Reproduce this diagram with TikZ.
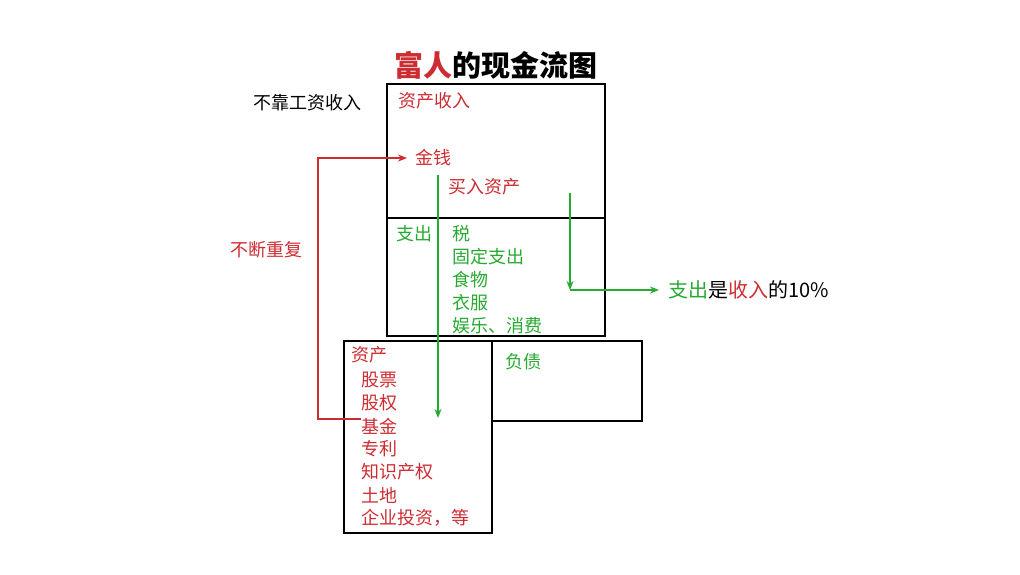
\documentclass[tikz,border=0pt]{standalone}
\usepackage{fontspec}
\setmainfont{Noto Sans CJK SC}
\usetikzlibrary{positioning,arrows.meta}
\definecolor{cfred}{RGB}{205,45,50}
\definecolor{cfgreen}{RGB}{40,170,50}
\tikzset{
  >={Stealth[length=9pt,width=7pt]},
  bigbox/.style={draw=black,line width=1.6pt,inner sep=0pt},
  txt/.style={font=\fontsize{18}{21}\selectfont,inner sep=0pt,anchor=west},
  redtxt/.style={txt,text=cfred},
  greentxt/.style={txt,text=cfgreen},
  redflow/.style={->,draw=cfred,line width=1.6pt},
  greenflow/.style={->,draw=cfgreen,line width=1.6pt},
}
\begin{document}
\begin{tikzpicture}[x=1pt,y=-1pt]
  \useasboundingbox[fill=white] (0,0) rectangle (1020,574);
  % title
  \node[font=\fontsize{29}{33}\selectfont\bfseries,inner sep=0pt] (title) at (496,65)
    {\textcolor{cfred}{富人}的现金流图};
  % boxes
  \node[bigbox,minimum width=218pt,minimum height=134pt] (income) at (496,151) {};
  \node[bigbox,minimum width=218pt,minimum height=118pt] (expense) at (496,277) {};
  \node[bigbox,minimum width=148pt,minimum height=192pt] (asset) at (418,437) {};
  \node[bigbox,minimum width=150pt,minimum height=80pt] (liab) at (567,381) {};
  % income box
  \node[txt] (noWage) at (253,103) {不靠工资收入};
  \node[redtxt] (incTitle) at (398,101) {资产收入};
  \node[redtxt] (money) at (415,158) {金钱};
  \node[redtxt] (buy) at (448,187) {买入资产};
  % expense box
  \node[greentxt] (expTitle) at (396,234) {支出};
  \node[greentxt] (tax) at (452,234) {税};
  \node[greentxt] (fixed) at (452,257) {固定支出};
  \node[greentxt] (food) at (452,280) {食物};
  \node[greentxt] (cloth) at (452,303) {衣服};
  \node[greentxt] (fun) at (452,326) {娱乐、消费};
  % asset / liability boxes
  \node[redtxt] (assTitle) at (351,355) {资产};
  \node[redtxt] (stock) at (361,380) {股票};
  \node[redtxt] (equity) at (361,403) {股权};
  \node[redtxt] (fund) at (361,426) {基金};
  \node[redtxt] (patent) at (361,449) {专利};
  \node[redtxt] (ip) at (361,472) {知识产权};
  \node[redtxt] (land) at (361,495) {土地};
  \node[redtxt] (invest) at (361,518) {企业投资，等};
  \node[greentxt] (liabTitle) at (505,362) {负债};
  % side notes
  \node[redtxt] (repeat) at (230,250) {不断重复};
  \node[txt,font=\fontsize{20}{23}\selectfont] (ratio) at (668,290)
    {\textcolor{cfgreen}{支出}是\textcolor{cfred}{收入}的10\%};
  % flows
  \coordinate (loopL) at (318,419);
  \coordinate (buyTop) at (438,175);
  \coordinate (buyEnd) at (438,418);
  \coordinate (spTop) at (570,193);
  \coordinate (spTurn) at (570,290);
  \draw[redflow,shorten >=8pt] (fund.west |- loopL) -- (loopL) |- (money.west);
  \draw[greenflow] (buyTop) -- (buyEnd);
  \draw[greenflow] (spTop) -- (spTurn);
  \draw[greenflow,shorten >=9pt] (spTurn) -- (ratio.west);
\end{tikzpicture}
\end{document}
